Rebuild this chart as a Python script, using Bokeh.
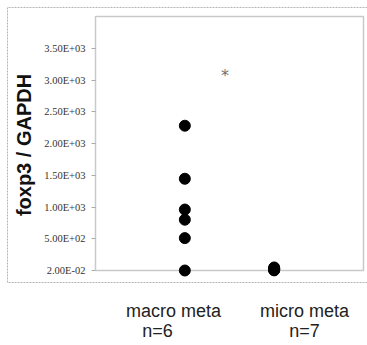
from bokeh.plotting import figure
from bokeh.models import Range1d, FixedTicker, LinearAxis
from bokeh.core.properties import value
from bokeh.embed import file_html
from bokeh.resources import INLINE

# ---- data ----
groups = ["macro meta", "micro meta"]
group_n = ["n=6", "n=7"]
macro_vals = [2280, 1445, 960, 800, 510, 0.02]
micro_vals = [48, 35, 28, 20, 15, 8, 2]
star_text = "*"
star_value = 3075
tick_values = [0.02, 500, 1000, 1500, 2000, 2500, 3000, 3500]
tick_labels = ["2.00E-02", "5.00E+02", "1.00E+03", "1.50E+03",
               "2.00E+03", "2.50E+03", "3.00E+03", "3.50E+03"]
y_title = "foxp3 / GAPDH"
group_label_x = [0.873, 2.340]
n_label_x = [0.694, 2.340]

# inner plot area (data)
X0, X1 = 0.0, 3.0
Y0, Y1 = 0.0, 4000.0
# outer panel box (data)
BX0, BY0, BY1 = -0.985, -189.0, 4142.0

XS, XE = -0.9963, 3.0448
YS, YE = -204.7, 4157.5

p = figure(width=367, height=345, output_backend="svg", toolbar_location=None,
           x_range=Range1d(XS, XE), y_range=Range1d(YS, YE),
           x_axis_location=None,
           min_border_left=6, min_border_right=0, min_border_top=6, min_border_bottom=62)
p.outline_line_color = None
p.xgrid.visible = False
p.ygrid.visible = False
p.background_fill_color = "white"
p.border_fill_color = "white"

# outer grey dashed panel (right side open, runs off the page)
p.line([XE, BX0, BX0, XE], [BY1, BY1, BY0, BY0], line_color="#b4b4b4", line_width=1,
       line_dash="2 1")
# plot frame box
p.line([X0, X0, X1, X1, X0], [Y0, Y1, Y1, Y0, Y0], line_color="#c9c9c9", line_width=1.5)

# y axis placed at the inner frame's left edge
yax = p.yaxis[0]
yax.fixed_location = X0
yax.ticker = FixedTicker(ticks=tick_values)
yax.major_label_overrides = {t: l for t, l in zip(tick_values, tick_labels)}
yax.axis_line_color = None
yax.major_tick_line_color = "#aaaaaa"
yax.major_tick_out = 4
yax.major_tick_in = 0
yax.minor_tick_line_color = None
yax.major_label_text_font = "Liberation Serif"
yax.major_label_text_font_size = "10.5px"
yax.major_label_text_color = "#333333"
yax.major_label_standoff = 6
yax.axis_label = y_title
yax.axis_label_text_font = "Liberation Sans"
yax.axis_label_text_font_style = "bold"
yax.axis_label_text_font_size = "20px"
yax.axis_label_text_color = "#111111"
yax.axis_label_standoff = 6

# points
p.scatter([1] * len(macro_vals), macro_vals, size=11, color="black")
p.scatter([2] * len(micro_vals), micro_vals, size=11, color="black")

# significance star
p.text([1.45], [star_value], text=[star_text], text_align="center", text_baseline="middle",
       text_font=value("DejaVu Sans"), text_font_size="16px", text_color="#707070")

# category labels below the panel, as label-only axes
def label_axis(xs, labels, standoff):
    ax = LinearAxis(ticker=FixedTicker(ticks=xs),
                    major_label_overrides={x: l for x, l in zip(xs, labels)})
    ax.axis_line_color = None
    ax.major_tick_line_color = None
    ax.minor_tick_line_color = None
    ax.major_tick_out = 0
    ax.major_tick_in = 0
    ax.major_label_standoff = standoff
    ax.major_label_text_font = "Liberation Sans"
    ax.major_label_text_font_size = "18px"
    ax.major_label_text_color = "#222222"
    p.add_layout(ax, "below")

label_axis(group_label_x, groups, 17)
label_axis(n_label_x, group_n, -3)

open("out.html", "w").write(file_html(p, INLINE))
